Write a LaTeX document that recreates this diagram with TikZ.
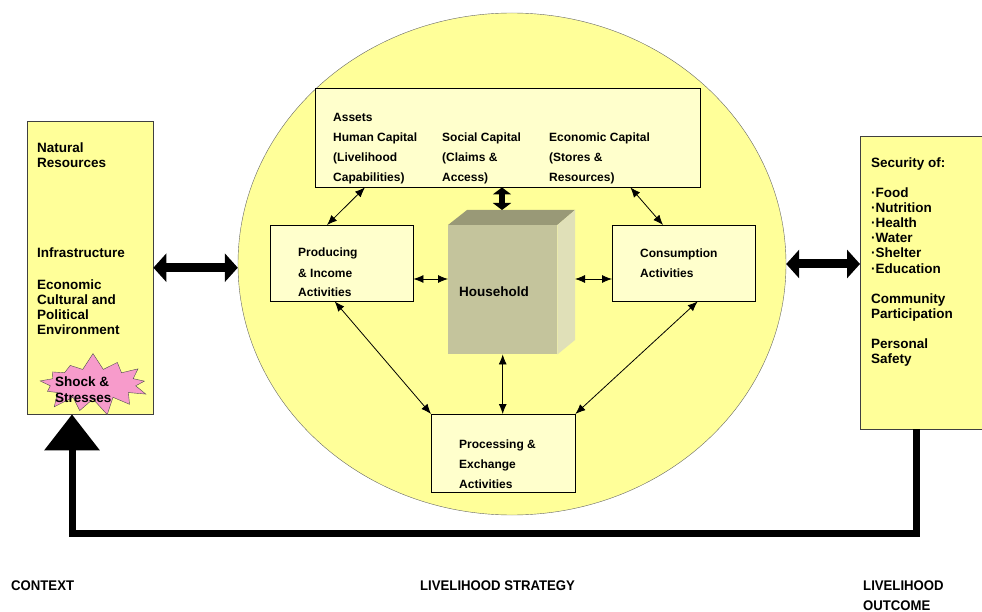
\documentclass[tikz,border=0pt]{standalone}
\usepackage{fontspec}
\setmainfont{Liberation Sans}
\newfontfamily\narrowfont{Liberation Sans}[FakeStretch=0.94]
\usepackage{tikz}
\usepackage{xcolor}
\usetikzlibrary{arrows.meta,shapes.geometric,shapes.symbols}

\definecolor{sunYellow}{HTML}{FFFF99}
\definecolor{paleYellow}{HTML}{FFFFCC}
\definecolor{houseFront}{HTML}{C4C49C}
\definecolor{houseTop}{HTML}{999977}
\definecolor{houseSide}{HTML}{E0E0B8}
\definecolor{shockPink}{HTML}{F79BCB}

\tikzset{
  sidebox/.style={draw=black!75, fill=sunYellow, anchor=north west, inner sep=0pt},
  innerbox/.style={draw=black, fill=paleYellow, anchor=north west, inner sep=0pt},
  sidetext/.style={anchor=base west, inner sep=0pt, align=left, font=\bfseries\fontsize{13.5}{15.2}\selectfont},
  boxtext/.style={anchor=base west, inner sep=0pt, align=left, font=\bfseries\fontsize{12}{20}\selectfont},
  foottext/.style={anchor=base west, inner sep=0pt, align=left, font=\narrowfont\bfseries\fontsize{14}{20}\selectfont},
  bigarrow/.style={line width=9pt, {Triangle[length=13pt,width=28pt]}-{Triangle[length=13pt,width=28pt]}},
  link/.style={line width=0.8pt, {Latex[length=10pt,width=8pt]}-{Latex[length=10pt,width=8pt]}}
}

\begin{document}
\begin{tikzpicture}[x=1pt,y=-1pt]
    \useasboundingbox (0,0) rectangle (982,612);
    % livelihood strategy
    \node[ellipse, draw=black!60, fill=sunYellow, minimum width=548pt, minimum height=502pt] (strategy) at (512,264) {};
    \node[sidebox, minimum width=126pt, minimum height=293pt] (context) at (27,121) {};
    \node[sidebox, minimum width=130pt, minimum height=293pt] (outcome) at (860,136) {};

    % text nodes sit on the baseline of their last line
    \node[sidetext] (natural) at (37,168) {Natural\\Resources};
    \node[sidetext] (infra) at (37,258) {Infrastructure};
    \node[sidetext] (environ) at (37,334.6) {Economic\\Cultural and\\Political\\Environment};
    \node[starburst, draw=black!70, fill=shockPink, starburst points=13, starburst point height=17pt,
          random starburst=7, minimum width=120pt, minimum height=64pt, inner sep=0pt] (shock) at (93,384) {};
    \node[sidetext] (shockLbl) at (55,402) {Shock \&\\Stresses};

    \node[sidetext] (security) at (871,168) {Security of:};
    \node[sidetext] (needs) at (871,273) {·Food\\·Nutrition\\·Health\\·Water\\·Shelter\\·Education};
    \node[sidetext] (community) at (871,318.2) {Community\\Participation};
    \node[sidetext] (safety) at (871,363.2) {Personal\\Safety};

    % boxes inside the circle
    \node[innerbox, minimum width=385pt, minimum height=99pt] (assets) at (315,88) {};
    \node[boxtext] (assetsLbl) at (333,182) {Assets\\Human Capital\\(Livelihood\\Capabilities)};
    \node[boxtext] (socialLbl) at (442,182) {Social Capital\\(Claims \&\\Access)};
    \node[boxtext] (econLbl) at (549,182) {Economic Capital\\(Stores \&\\Resources)};

    \node[innerbox, minimum width=143pt, minimum height=76pt] (producing) at (270,225) {};
    \node[boxtext] (producingLbl) at (298,297) {Producing\\\& Income\\Activities};
    \node[innerbox, minimum width=143pt, minimum height=76pt] (consumption) at (612,225) {};
    \node[boxtext] (consumptionLbl) at (640,277) {Consumption\\Activities};
    \node[innerbox, minimum width=144pt, minimum height=78pt] (processing) at (431,414) {};
    \node[boxtext] (processingLbl) at (459,488) {Processing \&\\Exchange\\Activities};

    % household block
    \coordinate (hTL) at (467,210);
    \coordinate (hTR) at (575,210);
    \coordinate (hBR) at (575,340);
    \coordinate (hMid) at (502,279);
    \node[fill=houseFront, anchor=north west, inner sep=0pt, minimum width=109pt, minimum height=129pt] (house) at (448,225) {};
    \fill[houseTop] (house.north west) -- (hTL) -- (hTR) -- (house.north east) -- cycle;
    \fill[houseSide] (house.north east) -- (hTR) -- (hBR) -- (house.south east) -- cycle;
    \node[anchor=base west, inner sep=0pt, font=\bfseries\fontsize{13.5}{15}\selectfont] (houseLbl) at (459,296) {Household};

    % connectors
    \draw[bigarrow] (context.east) -- (context.east -| strategy.west);
    \draw[bigarrow] (strategy.east) -- (strategy.east -| outcome.west);
    \draw[line width=6pt, {Triangle[length=7pt,width=18pt]}-{Triangle[length=7pt,width=18pt]}] (assets.south -| hMid) -- (hMid |- hTL);
    \draw[link] ([xshift=50pt]assets.south west) -- ([xshift=57pt]producing.north west);
    \draw[link] ([xshift=-70pt]assets.south east) -- ([xshift=51pt]consumption.north west);
    \draw[link] (producing.east |- hMid) -- (house.west |- hMid);
    \draw[link] (hTR |- hMid) -- (consumption.west |- hMid);
    \draw[link] ([xshift=-7pt]producing.south) -- (processing.north west);
    \draw[link] ([xshift=14pt]consumption.south) -- (processing.north east);
    \draw[link] (house.south) -- (house.south |- processing.north);

    % feedback loop
    \coordinate (fbR) at (916,533);
    \coordinate (fbL) at (72,533);
    \draw[line width=7pt, line join=miter, -{Triangle[length=36pt,width=54pt]}]
        (outcome.south -| fbR) -- (fbR) -- (fbL) -- (context.south -| fbL);

    \node[foottext] (ctxLbl) at (11,590) {CONTEXT};
    \node[foottext] (stratLbl) at (420,590) {LIVELIHOOD STRATEGY};
    \node[foottext] (outLbl) at (863,610) {LIVELIHOOD\\OUTCOME};
\end{tikzpicture}
\end{document}
